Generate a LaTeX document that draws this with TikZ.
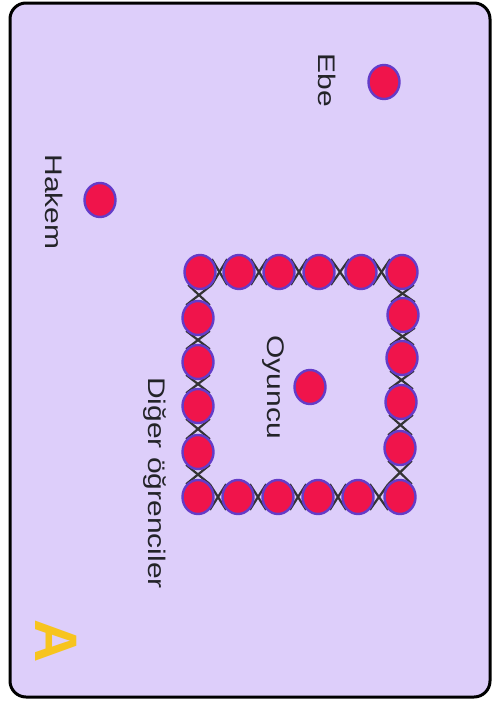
\documentclass[tikz,border=0pt]{standalone}
\usepackage{fontspec}
\setmainfont{Liberation Sans}
\usetikzlibrary{shapes.geometric}
\definecolor{lav}{RGB}{221,206,250}
\definecolor{dotred}{RGB}{240,20,75}
\definecolor{dotrim}{RGB}{100,60,200}
\definecolor{txt}{RGB}{35,35,40}
\definecolor{ayellow}{RGB}{247,196,30}
\pgfdeclarelayer{framelayer}
\pgfdeclarelayer{links}
\pgfsetlayers{framelayer,links,main}
\tikzset{
  kid/.style={ellipse, fill=dotred, draw=dotrim, line width=2.4pt, minimum width=31pt, minimum height=34pt, inner sep=0pt},
  handline/.style={draw=black!80, line width=2.2pt},
  lbl/.style={text=txt, font=\fontsize{24}{28}\selectfont, rotate=-90, xscale=1.25, anchor=base, inner sep=0pt},
  frame/.style={draw=black, line width=3pt, fill=lav, rounded corners=16pt}
}
\begin{document}
\begin{tikzpicture}[x=1pt,y=-1pt]
\useasboundingbox (0,0) rectangle (494,704);
\begin{pgfonlayer}{framelayer}
  \fill[white] (0,0) rectangle (494,704);
  \draw[frame] (10,3) rectangle (490,697);
\end{pgfonlayer}
% top row
\node[kid] (t1) at (200,272) {};
\node[kid] (t2) at (239,272) {};
\node[kid] (t3) at (279,272) {};
\node[kid] (t4) at (319,272) {};
\node[kid] (t5) at (361,272) {};
\node[kid] (t6) at (402,272) {};
% bottom row
\node[kid] (b1) at (198,497) {};
\node[kid] (b2) at (238,497) {};
\node[kid] (b3) at (278,497) {};
\node[kid] (b4) at (318,497) {};
\node[kid] (b5) at (358,497) {};
\node[kid] (b6) at (400,497) {};
% left column
\node[kid] (l1) at (198,318) {};
\node[kid] (l2) at (198,362) {};
\node[kid] (l3) at (198,406) {};
\node[kid] (l4) at (198,452) {};
% right column
\node[kid] (r1) at (403,315) {};
\node[kid] (r2) at (402,358) {};
\node[kid] (r3) at (401,402) {};
\node[kid] (r4) at (400,448) {};
% single players
\node[kid] (oyuncu) at (310,387) {};
\node[kid] (ebe) at (384,82) {};
\node[kid] (hakem) at (100,200) {};
% labels
\node[lbl] (ebeL) at (318,80) {Ebe};
\node[lbl] (hakemL) at (45,202) {Hakem};
\node[lbl] (oyuncuL) at (267,387) {Oyuncu};
\node[lbl] (digerL) at (148,483) {Diğer öğrenciler};
\node[text=ayellow, font=\fontsize{60}{60}\selectfont\bfseries, rotate=-90, anchor=base, inner sep=0pt] (letterA) at (35,641) {A};
% hand links
\begin{pgfonlayer}{links}
  \foreach \a/\b in {t1/t2,t2/t3,t3/t4,t4/t5,t5/t6,b1/b2,b2/b3,b3/b4,b4/b5,b5/b6}{
    \draw[handline] (\a.north east) -- (\b.south west);
    \draw[handline] (\a.south east) -- (\b.north west);
  }
  \foreach \a/\b in {t1/l1,l1/l2,l2/l3,l3/l4,l4/b1,t6/r1,r1/r2,r2/r3,r3/r4,r4/b6}{
    \draw[handline] (\a.south west) -- (\b.north east);
    \draw[handline] (\a.south east) -- (\b.north west);
  }
\end{pgfonlayer}
\end{tikzpicture}
\end{document}
